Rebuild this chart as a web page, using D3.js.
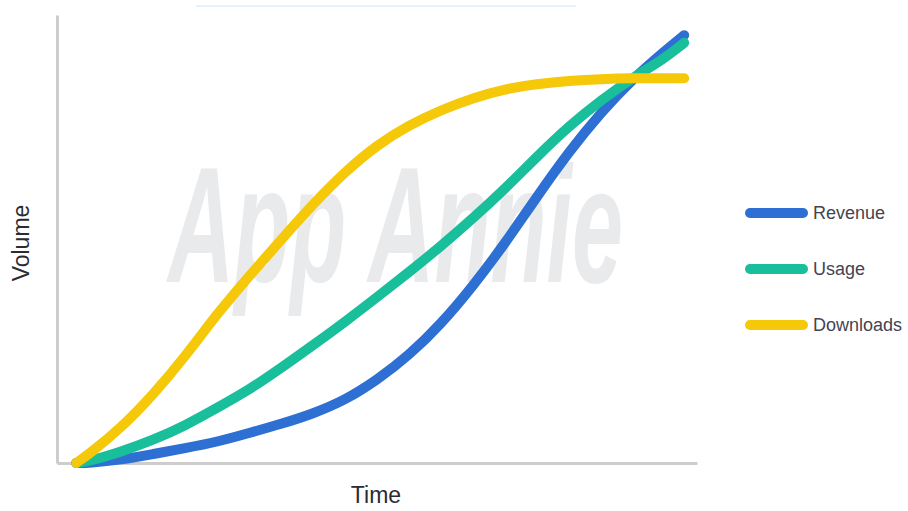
<!DOCTYPE html>
<html>
<head>
<meta charset="utf-8">
<script src="https://cdn.jsdelivr.net/npm/d3@7"></script>
<style>
  body { margin: 0; background: #fff; }
  svg { display: block; font-family: "Liberation Sans", Arial, sans-serif; }
</style>
</head>
<body>
<script>
// time steps (0-100 along the x axis) and volumes (0-100)
const time = [3, 5, 10, 15, 20, 25, 30, 35, 40, 45, 50, 55, 60, 65, 70, 75, 80, 85, 90, 95, 98];
const revenue = [0, 0, 0.7, 2.0, 3.3, 4.7, 6.7, 8.7, 11.0, 14.0, 18.5, 24.0, 31.0, 39.5, 49.0, 59.5, 69.5, 78.3, 85.8, 92.0, 95.5];
const usage = [0, 0.4, 2.5, 5.1, 8.3, 12.3, 16.3, 21.2, 26.3, 31.5, 37.0, 42.6, 48.4, 54.6, 61.2, 68.4, 75.2, 81.0, 86.0, 90.4, 93.8];
const downloads = [0, 2.0, 7.8, 15.2, 23.7, 33.3, 41.7, 49.8, 57.8, 65.0, 71.0, 75.4, 78.8, 81.5, 83.5, 84.6, 85.3, 85.7, 85.9, 85.9, 85.9];
const seriesNames = ["Revenue", "Usage", "Downloads"];
const seriesColors = ["#2e6fd3", "#19be9a", "#f5c90a"];

const width = 908;
const height = 511;

const svg = d3.select("body")
  .append("svg")
  .attr("width", width)
  .attr("height", height);

const x = d3.scaleLinear().domain([0, 100]).range([57, 697]);
const y = d3.scaleLinear().domain([0, 100]).range([463, 15]);

// faint strip at the top of the picture
svg.append("line")
  .attr("x1", 196).attr("x2", 576)
  .attr("y1", 6).attr("y2", 6)
  .attr("stroke", "#e8f2fd")
  .attr("stroke-width", 2);

// watermark, squeezed horizontally to the width it has in the picture
const mark = svg.append("text")
  .style("font-size", "165px")
  .style("font-style", "italic")
  .style("font-weight", "bold")
  .style("fill", "#e9eaec")
  .text("App Annie");
const markScale = 455 / mark.node().getComputedTextLength();
mark.attr("transform", `translate(168, 282) scale(${markScale}, 1)`);

// axes (no ticks, just the lines)
const xAxis = d3.axisBottom(x).tickValues([]).tickSizeOuter(0);
const yAxis = d3.axisLeft(y).tickValues([]).tickSizeOuter(0);

svg.append("g")
  .attr("transform", `translate(0, ${y(0)})`)
  .call(xAxis)
  .call((g) => g.select(".domain").attr("stroke", "#cdcdcd").attr("stroke-width", 3));

svg.append("g")
  .attr("transform", `translate(${x(0)}, 0)`)
  .call(yAxis)
  .call((g) => g.select(".domain").attr("stroke", "#cdcdcd").attr("stroke-width", 3));

svg.append("text")
  .attr("x", 376)
  .attr("y", 503)
  .attr("text-anchor", "middle")
  .style("font-size", "23px")
  .style("fill", "#2b2b33")
  .text("Time");

svg.append("text")
  .attr("transform", "translate(29, 243) rotate(-90)")
  .attr("text-anchor", "middle")
  .style("font-size", "23px")
  .style("fill", "#2b2b33")
  .text("Volume");

// curves
const series = [revenue, usage, downloads];
const line = d3.line()
  .x((d, i) => x(time[i]))
  .y((d) => y(d))
  .curve(d3.curveBasis);

svg.append("g")
  .selectAll("path")
  .data(series)
  .enter()
  .append("path")
  .attr("d", line)
  .attr("fill", "none")
  .attr("stroke", (d, i) => seriesColors[i])
  .attr("stroke-width", 10)
  .attr("stroke-linecap", "round")
  .attr("stroke-linejoin", "round");

// legend
const legendY = d3.scalePoint().domain(seriesNames).range([213, 325]);
const legend = svg.append("g")
  .selectAll("g")
  .data(seriesNames)
  .enter()
  .append("g")
  .attr("transform", (d) => `translate(0, ${legendY(d)})`);

legend.append("line")
  .attr("x1", 750).attr("x2", 803)
  .attr("stroke", (d, i) => seriesColors[i])
  .attr("stroke-width", 10)
  .attr("stroke-linecap", "round");

legend.append("text")
  .attr("x", 813)
  .attr("dy", "0.35em")
  .style("font-size", "18px")
  .style("fill", "#444450")
  .text((d) => d);
</script>
</body>
</html>
